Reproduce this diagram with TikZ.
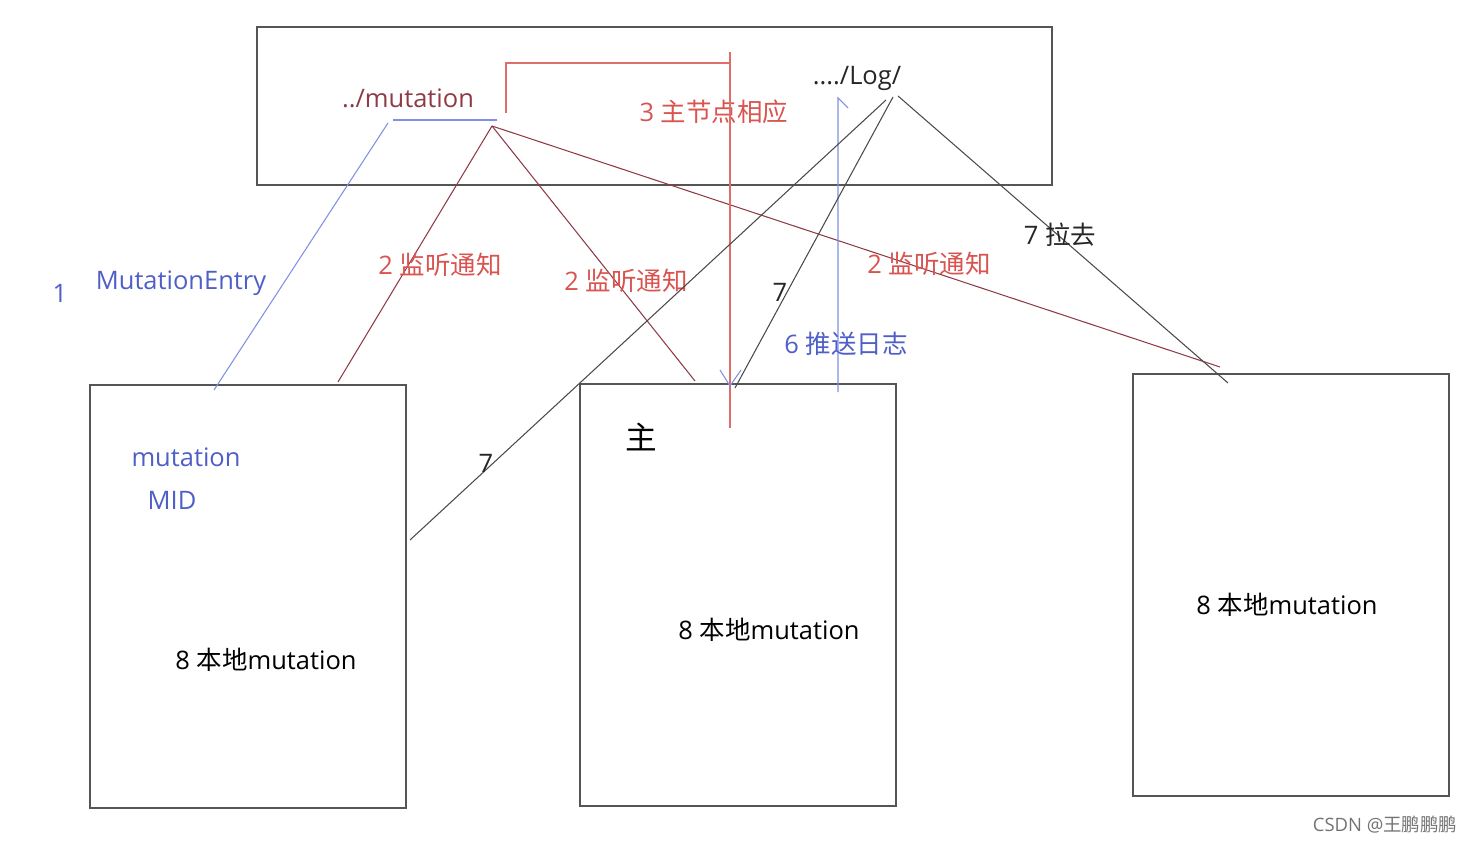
\documentclass[tikz,border=0pt]{standalone}
\usepackage{fontspec}
\setmainfont{Open Sans}
\newfontfamily\cjk{Noto Sans CJK SC}
\usetikzlibrary{arrows.meta}
\definecolor{boxline}{HTML}{555555}
\definecolor{wirered}{HTML}{8E3B46}
\definecolor{txtred}{HTML}{D9534F}
\definecolor{txtblue}{HTML}{4F5FC8}
\definecolor{wireblue}{HTML}{8090E0}
\definecolor{wiregrey}{HTML}{4A4A4A}

\begin{document}
\begin{tikzpicture}[x=0.02cm, y=-0.02cm,
    every node/.style={font=\fontsize{14.5}{17}\selectfont, inner sep=0pt},
    panel/.style={draw=boxline, line width=0.8pt, minimum width=6.32cm},
    redtxt/.style={text=txtred},
    bluetxt/.style={text=txtblue},
    greytxt/.style={text=black!85},
    redwire/.style={draw=wirered, line width=0.6pt},
    bluewire/.style={draw=wireblue, line width=0.6pt},
    greywire/.style={draw=wiregrey, line width=0.6pt},
    ackline/.style={draw=txtred!85, line width=0.7pt}
]
\useasboundingbox (0,0) rectangle (1476,844);
% ZooKeeper side
\node[panel, minimum width=15.9cm, minimum height=3.16cm] (zk) at (654.5,106) {};
\node[text=wirered] (mutdir) at (408,98) {../mutation};
\node[greytxt] (logdir) at (857,78) {..../Log/};
\node[redtxt] (answer) at (714,112) {3 {\cjk 主节点相应}};
% Nodes
\node[panel, minimum height=8.46cm] (lbox) at (248,596.5) {};
\node[panel, minimum height=8.44cm] (mbox) at (738,595) {};
\node[panel, minimum height=8.44cm] (rbox) at (1291,585) {};
\node[font=\fontsize{18}{21}\selectfont\cjk] (master) at (641,437) {主};
\node[bluetxt] (lmut) at (186,457) {mutation};
\node[bluetxt] (lmid) at (172,500) {MID};
\node (lloc) at (266,660) {8 {\cjk 本地}mutation};
\node (mloc) at (769,630) {8 {\cjk 本地}mutation};
\node (rloc) at (1287,605) {8 {\cjk 本地}mutation};
% End points
\coordinate (ul1) at (393,120); \coordinate (ul2) at (497,120);
\coordinate (et) at (388,123);  \coordinate (eb) at (214,390);
\coordinate (mt) at (492,126);
\coordinate (ml) at (338,382);  \coordinate (mm) at (695,381); \coordinate (mr) at (1220,367);
\coordinate (lg1) at (886,100); \coordinate (lg2) at (893,97); \coordinate (lg3) at (898,96);
\coordinate (pl) at (410,540);  \coordinate (pm) at (735,388); \coordinate (pr) at (1228,383);
\coordinate (b1) at (506,113);  \coordinate (b2) at (506,63);  \coordinate (b3) at (730,63);
\coordinate (vt) at (730,52);   \coordinate (vb) at (730,428);
\coordinate (pb) at (838,392);  \coordinate (pt) at (838,98);
% Step 1
\draw[bluewire] (ul1) -- (ul2);
\draw[bluewire] (et) -- (eb);
\node[bluetxt] (s1) at (60,293) {1};
\node[bluetxt] (entry) at (181,283) {MutationEntry};
% Step 2
\draw[redwire] (mt) -- (ml);
\draw[redwire] (mt) -- (mm);
\draw[redwire] (mt) -- (mr);
\node[redtxt] (w1) at (440,265) {2 {\cjk 监听通知}};
\node[redtxt] (w2) at (626,281) {2 {\cjk 监听通知}};
\node[redtxt] (w3) at (929,264) {2 {\cjk 监听通知}};
% Step 3
\draw[ackline] (b1) -- (b2) -- (b3);
\draw[ackline] (vt) -- (vb);
\draw[bluewire] (720,370) -- (730,386) -- (741,370);
% Step 6
\draw[bluewire] (pb) -- (pt) -- (848,108);
\node[bluetxt] (push) at (846,344) {6 {\cjk 推送日志}};
% Step 7
\draw[greywire] (lg1) -- (pl);
\draw[greywire] (lg2) -- (pm);
\draw[greywire] (lg3) -- (pr);
\node[greytxt] (p7a) at (486,463) {7};
\node[greytxt] (p7b) at (780,292) {7};
\node[greytxt] (pull) at (1060,235) {7 {\cjk 拉去}};
% Watermark
\node[text=black!55, font=\fontsize{10.5}{12}\selectfont] (wm) at (1385,825) {CSDN @{\cjk 王鹏鹏鹏}};
\end{tikzpicture}
\end{document}
